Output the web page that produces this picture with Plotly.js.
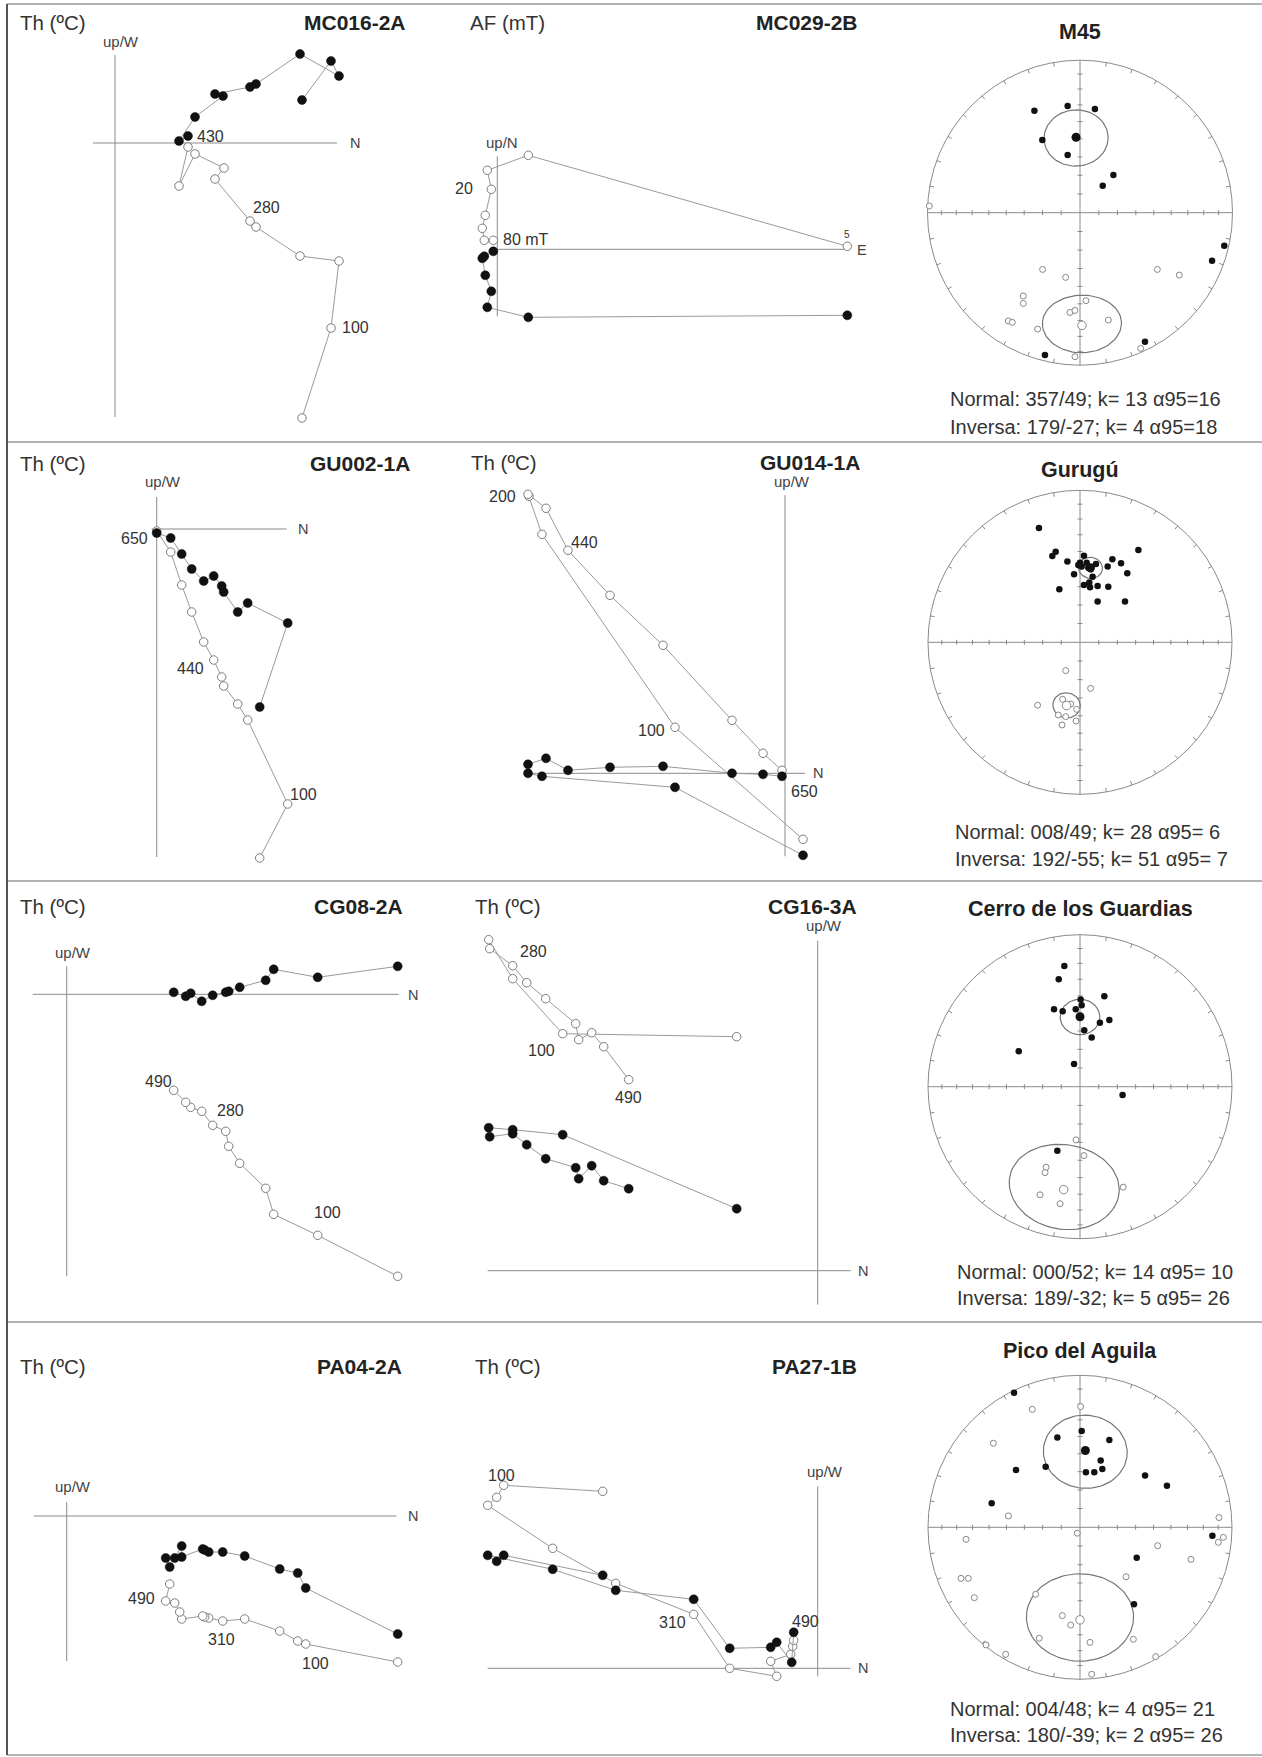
<!DOCTYPE html>
<html><head><meta charset="utf-8">
<script src="https://cdn.plot.ly/plotly-3.0.1.min.js"></script>
<style>html,body{margin:0;padding:0;background:#fff}#chart{width:1262px;height:1757px}</style>
</head><body><div id="chart"></div>
<script>
// ================= DATA =================
// Zijderveld diagrams (arbitrary units). f = filled (horizontal projection), o = open (vertical projection)
// MC016-2A  Th (ºC)
const mc016_fx = [187,216,224,185,141,135,100,108,80,64,73];
const mc016_fy = [43,82,67,89,59,56,49,47,26,2,7];
const mc016_ox = [187,216,224,185,141,135,100,109,80,64,73];
const mc016_oy = [-275,-185,-118,-113,-84,-78,-36,-25,-11,-43,-4];
// MC029-2B  AF (mT)
const mc029_fx = [350,31,-10,-6,-12,-15,-13,-4];
const mc029_fy = [-66,-68,-58,-42,-26,-9,-7,-2];
const mc029_ox = [350,31,-10,-6,-12,-15,-13,-4];
const mc029_oy = [3,94,79,60,34,21,9,9];
// GU002-1A
const gu002_fx = [103,131,91,81,67,65,57,47,35,25,14,0];
const gu002_fy = [-178,-94,-74,-83,-63,-57,-47,-52,-40,-25,-9,-4];
const gu002_ox = [103,131,91,81,67,65,57,47,35,25,14,0];
const gu002_oy = [-329,-275,-191,-175,-157,-148,-131,-113,-83,-56,-23,-2];
// GU014-1A
const gu014_fx = [18,-110,-243,-257,-257,-239,-217,-175,-122,-53,-22,-3];
const gu014_fy = [-82,-14,-3,0,9,15,3,6,7,0,-1,-3];
const gu014_ox = [18,-110,-243,-256,-257,-239,-217,-175,-122,-53,-22,-3];
const gu014_oy = [-66,46,239,277,279,265,223,178,128,53,20,3];
// CG08-2A
const cg08_fx = [331,251,207,199,173,162,159,146,135,124,119,107];
const cg08_fy = [28,17,25,14,7,3,2,-1,-7,1,-2,2];
const cg08_ox = [331,251,207,199,173,162,159,146,135,124,119,107];
const cg08_oy = [-282,-241,-220,-194,-169,-152,-137,-131,-117,-113,-108,-96];
// CG16-3A
const cg16_fx = [-81,-255,-305,-329,-328,-305,-291,-272,-242,-239,-226,-214,-189];
const cg16_fy = [62,136,141,143,134,137,126,112,103,92,105,90,82];
const cg16_ox = [-81,-255,-305,-329,-328,-305,-291,-272,-242,-239,-226,-214,-189];
const cg16_oy = [234,237,292,331,322,305,288,272,247,231,238,224,191];
// PA04-2A
const pa04_fx = [331,239,231,213,178,156,142,138,136,115,115,108,99,103];
const pa04_fy = [-118,-72,-57,-53,-40,-36,-36,-34,-33,-41,-30,-42,-42,-51];
const pa04_ox = [331,239,231,213,178,156,142,138,136,115,113,108,99,103];
const pa04_oy = [-146,-128,-125,-115,-103,-105,-102,-101,-100,-103,-96,-87,-85,-68];
// PA27-1B
const pa27_fx = [-215,-314,-321,-330,-265,-202,-124,-88,-47,-41,-26,-24];
const pa27_fy = [93,113,107,113,99,78,69,20,21,26,6,36];
const pa27_ox = [-215,-314,-321,-330,-265,-202,-124,-88,-41,-47,-27,-25,-24];
const pa27_oy = [177,183,171,163,120,85,54,0,-8,7,14,22,28];

// Stereonets: site directions, equal-area projection coordinates (E, N; net radius = 1)
const m45_nx = [-0.299,-0.081,0.098,-0.247,-0.081,0.219,0.149,0.946,0.866,0.426,-0.230];
const m45_ny = [0.669,0.699,0.680,0.477,0.378,0.247,0.177,-0.216,-0.315,-0.846,-0.933];
const m45_rx = [-0.988,-0.245,-0.094,0.507,0.651,-0.372,-0.372,0.039,-0.066,-0.033,-0.470,-0.444,-0.278,0.186,0.398,-0.033];
const m45_ry = [0.044,-0.372,-0.424,-0.372,-0.409,-0.546,-0.595,-0.577,-0.654,-0.641,-0.710,-0.719,-0.763,-0.704,-0.890,-0.944];
const gur_nx = [-0.270,-0.160,-0.182,0.384,-0.083,0,0.026,0.044,0.105,-0.011,0.011,0.055,0.070,0.213,0.270,0.182,0.311,-0.039,0.083,0.061,0.026,0.066,0.116,0.186,-0.136,0.116,0.296];
const gur_ny = [0.752,0.596,0.568,0.607,0.531,0.524,0.570,0.524,0.515,0.509,0.498,0.491,0.480,0.546,0.520,0.498,0.454,0.447,0.432,0.393,0.377,0.362,0.371,0.366,0.349,0.268,0.268];
const gur_rx = [-0.094,0.070,-0.279,-0.114,-0.088,-0.061,-0.022,-0.143,-0.094,-0.118,-0.026];
const gur_ry = [-0.186,-0.303,-0.414,-0.375,-0.419,-0.406,-0.441,-0.478,-0.489,-0.544,-0.518];
const cg_nx = [-0.103,-0.140,0.160,0.004,0.011,-0.171,-0.114,-0.028,0.131,0.193,0.028,0.077,-0.403,-0.039,0.280,-0.149];
const cg_ny = [0.794,0.707,0.595,0.573,0.536,0.510,0.497,0.510,0.420,0.438,0.372,0.324,0.234,0.149,-0.055,-0.422];
const cg_rx = [-0.026,0.026,-0.223,-0.230,-0.263,-0.131,0.284];
const cg_ry = [-0.350,-0.453,-0.530,-0.565,-0.711,-0.770,-0.661];
const pa_nx = [-0.434,0.011,-0.149,0.193,0.136,0.147,0.094,0.039,-0.226,-0.421,0.428,0.572,-0.581,0.871,0.373,0.355];
const pa_ny = [0.886,0.634,0.590,0.575,0.439,0.384,0.362,0.362,0.399,0.377,0.340,0.274,0.158,-0.055,-0.200,-0.507];
const pa_rx = [0.004,-0.314,-0.570,-0.471,-0.018,0.914,0.943,0.910,-0.750,0.511,0.730,0.303,-0.783,-0.735,-0.695,-0.292,-0.116,-0.061,-0.268,0.066,0.351,-0.618,-0.489,0.498,0.077];
const pa_ry = [0.794,0.776,0.553,0.075,-0.039,0.064,-0.066,-0.099,-0.079,-0.121,-0.211,-0.325,-0.336,-0.336,-0.463,-0.441,-0.581,-0.643,-0.730,-0.757,-0.737,-0.774,-0.836,-0.851,-0.967];

// Site mean statistics
const siteNames = ['M45','Gurugú','Cerro de los Guardias','Pico del Aguila'];
const normDec = [357,8,0,4];
const normInc = [49,49,52,48];
const normK = [13,28,14,4];
const normA95 = [16,6,10,21];
const revDec = [179,192,189,180];
const revInc = [-27,-55,-32,-39];
const revK = [4,51,5,2];
const revA95 = [18,7,26,26];

// ================= LAYOUT / DRAWING =================
const W = 1262, H = 1757;
const FONT = 'Liberation Sans, Arial, Helvetica, sans-serif';
const traces = [], shapes = [], annotations = [];
const layout = {width:W, height:H, margin:{l:0,r:0,t:0,b:0}, paper_bgcolor:'#fff',
  plot_bgcolor:'rgba(0,0,0,0)', showlegend:false, font:{family:FONT, color:'#333'},
  shapes, annotations, hovermode:false};
const ref = k => (k === 1 ? '' : String(k));
function pAnn(text, x, y, o) {
  annotations.push(Object.assign({xref:'paper', yref:'paper', x:x/W, y:1-y/H, text, showarrow:false,
    xanchor:'center', yanchor:'middle', font:{family:FONT, size:14, color:'#333'}}, o || {}));
}
function setAxes(k, box, xr, yr) {
  const common = {visible:false, fixedrange:true, showgrid:false, zeroline:false};
  layout['xaxis'+ref(k)] = Object.assign({domain:[box[0]/W, box[1]/W], range:xr, anchor:'y'+ref(k)}, common);
  layout['yaxis'+ref(k)] = Object.assign({domain:[1-box[3]/H, 1-box[2]/H], range:yr, anchor:'x'+ref(k)}, common);
}

const rows = [[6,440],[444,879],[883,1320],[1324,1753]];
const zPanels = [
 {name:'MC016-2A', step:'Th (ºC)', col:0, row:0, origin:[115,143], fx:mc016_fx, fy:mc016_fy, ox:mc016_ox, oy:mc016_oy,
  v:[88,-274], h:[-22,222], up:['up/W',120.7,41.7], end:['N',355,143], stepPos:[18,22], namePos:[408,22],
  labels:[['430','f',10,'left',7,-1],['280','o',5,'left',1,13],['100','o',1,'left',9,0]]},
 {name:'MC029-2B', step:'AF (mT)', col:1, row:0, origin:[497.3,249.3], fx:mc029_fx, fy:mc029_fy, ox:mc029_ox, oy:mc029_oy,
  v:[93,-67], h:[-3,348], up:['up/N',501.7,142.7], end:['E',862,250], stepPos:[468,22], namePos:[860,22],
  labels:[['5','o',0,'center',0,12,10],['20','o',3,'right',-16,1],['80 mT','o',7,'left',8,1]]},
 {name:'GU002-1A', step:'Th (ºC)', col:0, row:1, origin:[156.7,529], fx:gu002_fx, fy:gu002_fy, ox:gu002_ox, oy:gu002_oy,
  v:[32,-328], h:[-5,130], up:['up/W',163.3,481.7], end:['N',303.3,529], stepPos:[18,463.3], namePos:[411.7,463.3],
  labels:[['650','o',11,'right',-7,-7],['440','o',6,'right',-8,-8],['100','o',1,'left',0,10]]},
 {name:'GU014-1A', step:'Th (ºC)', col:1, row:1, origin:[785,773.3], fx:gu014_fx, fy:gu014_fy, ox:gu014_ox, oy:gu014_oy,
  v:[278,-83], h:[-257,20], up:['up/W',791.7,481.7], end:['N',818.3,773.3], stepPos:[469,462.3], namePos:[861.7,462.3],
  labels:[['200','o',4,'right',-10,-2],['440','o',6,'left',1,8],['100','o',1,'right',-8,-3],['650','f',11,'left',7,-15]]},
 {name:'CG08-2A', step:'Th (ºC)', col:0, row:2, origin:[66.7,994.3], fx:cg08_fx, fy:cg08_fy, ox:cg08_ox, oy:cg08_oy,
  v:[28,-282], h:[-34,332], up:['up/W',73.3,952.3], end:['N',413.3,995], stepPos:[18,906.7], namePos:[405,906.7],
  labels:[['490','o',11,'right',0,9],['280','o',8,'left',13,1],['100','o',1,'left',-6,23]]},
 {name:'CG16-3A', step:'Th (ºC)', col:1, row:2, origin:[817.7,1270.7], fx:cg16_fx, fy:cg16_fy, ox:cg16_ox, oy:cg16_oy,
  v:[330,-34], h:[-330,33], up:['up/W',824,926], end:['N',863.3,1270.7], stepPos:[472.7,906.7], namePos:[859,906.7],
  labels:[['280','o',5,'left',5,14],['100','o',1,'right',-6,-17],['490','o',12,'center',0,-18]]},
 {name:'PA04-2A', step:'Th (ºC)', col:0, row:3, origin:[66.7,1516], fx:pa04_fx, fy:pa04_fy, ox:pa04_ox, oy:pa04_oy,
  v:[14,-145], h:[-33,330], up:['up/W',73.3,1486.7], end:['N',413.3,1516], stepPos:[18,1366.7], namePos:[404,1366.7],
  labels:[['490','o',12,'right',-9,3],['310','o',6,'left',-3,-21],['100','o',1,'left',-6,-19]]},
 {name:'PA27-1B', step:'Th (ºC)', col:1, row:3, origin:[817.7,1668.3], fx:pa27_fx, fy:pa27_fy, ox:pa27_ox, oy:pa27_oy,
  v:[182,-8], h:[-330,33], up:['up/W',825,1471.7], end:['N',863.3,1668.3], stepPos:[472.7,1366.7], namePos:[859,1366.7],
  labels:[['100','o',1,'center',-2,10],['310','o',6,'right',-6,-8],['490','f',11,'left',-4,11]]}
];
const cols = [[10,430],[440,870]];
const AXC = '#8a8a8a', LINEC = '#9a9a9a';

let k = 0;
zPanels.forEach(p => {
  k += 1;
  const box = [cols[p.col][0], cols[p.col][1], rows[p.row][0], rows[p.row][1]];
  const [ox, oy] = p.origin;
  setAxes(k, box, [box[0]-ox, box[1]-ox], [oy-box[3], oy-box[2]]);
  const xa = 'x'+ref(k), ya = 'y'+ref(k);
  shapes.push({type:'line', xref:xa, yref:ya, x0:0, x1:0, y0:p.v[0], y1:p.v[1], line:{color:AXC, width:1}, layer:'below'});
  shapes.push({type:'line', xref:xa, yref:ya, x0:p.h[0], x1:p.h[1], y0:0, y1:0, line:{color:AXC, width:1}, layer:'below'});
  traces.push({type:'scatter', mode:'lines+markers', x:p.ox, y:p.oy, xaxis:xa, yaxis:ya, cliponaxis:false,
    line:{color:LINEC, width:1}, marker:{size:8.5, color:'#fff', line:{color:'#7d7d7d', width:1}}});
  traces.push({type:'scatter', mode:'lines+markers', x:p.fx, y:p.fy, xaxis:xa, yaxis:ya, cliponaxis:false,
    line:{color:LINEC, width:1}, marker:{size:9, color:'#111', line:{color:'#111', width:0.5}}});
  pAnn(p.step, p.stepPos[0], p.stepPos[1], {xanchor:'left', font:{family:FONT, size:20.5, color:'#333'}});
  pAnn('<b>'+p.name+'</b>', p.namePos[0], p.namePos[1], {xanchor:'right', font:{family:FONT, size:21, color:'#222'}});
  pAnn(p.up[0], p.up[1], p.up[2], {font:{family:FONT, size:15, color:'#444'}});
  pAnn(p.end[0], p.end[1], p.end[2], {font:{family:FONT, size:14.5, color:'#444'}});
  p.labels.forEach(l => {
    const xs = l[1] === 'f' ? p.fx : p.ox, ys = l[1] === 'f' ? p.fy : p.oy;
    annotations.push({xref:xa, yref:ya, x:xs[l[2]], y:ys[l[2]], text:l[0], showarrow:false,
      xanchor:l[3], yanchor:'middle', xshift:l[4], yshift:l[5],
      font:{family:FONT, size:l[6] || 16, color:'#333'}});
  });
});

// ---------- stereonets ----------
const D2R = Math.PI/180;
function proj(decDeg, incDeg) {
  const r = Math.SQRT2*Math.sin((Math.PI/2 - Math.abs(incDeg)*D2R)/2);
  return [r*Math.sin(decDeg*D2R), r*Math.cos(decDeg*D2R)];
}
function a95Circle(D, I, a) {
  const d = D*D2R, i = I*D2R, al = a*D2R;
  const m = [Math.cos(i)*Math.cos(d), Math.cos(i)*Math.sin(d), Math.sin(i)];
  const u = [-Math.sin(d), Math.cos(d), 0];
  const v = [-Math.sin(i)*Math.cos(d), -Math.sin(i)*Math.sin(d), Math.cos(i)];
  const xs = [], ys = [];
  for (let t = 0; t <= 360; t += 4) {
    const c = Math.cos(t*D2R), s = Math.sin(t*D2R);
    const q = [0,1,2].map(j => Math.cos(al)*m[j] + Math.sin(al)*(c*u[j] + s*v[j]));
    const inc = Math.asin(Math.max(-1, Math.min(1, q[2])))/D2R;
    const dec = Math.atan2(q[1], q[0])/D2R;
    const pp = proj(dec, inc);
    xs.push(pp[0]); ys.push(pp[1]);
  }
  return [xs, ys];
}
const pad3 = n => String(n).padStart(3, '0');
const sNets = [
 {c:[1080,212.7], R:152.5, nx:m45_nx, ny:m45_ny, rx:m45_rx, ry:m45_ry, titleY:32.3, textX:948, textY:[399.3,426.7], gap:''},
 {c:[1080,642.3], R:152, nx:gur_nx, ny:gur_ny, rx:gur_rx, ry:gur_ry, titleY:470, textX:953, textY:[831.7,859], gap:' '},
 {c:[1080,1086.7], R:152, nx:cg_nx, ny:cg_ny, rx:cg_rx, ry:cg_ry, titleY:909.3, textX:955, textY:[1272.3,1298], gap:' '},
 {c:[1080,1527.3], R:152, nx:pa_nx, ny:pa_ny, rx:pa_rx, ry:pa_ry, titleY:1351, textX:948, textY:[1709.3,1735], gap:' '}
];
const NETC = '#8a8a8a';
sNets.forEach((s, i) => {
  k += 1;
  const h = 172;
  const box = [s.c[0]-h, s.c[0]+h, s.c[1]-h, s.c[1]+h];
  setAxes(k, box, [-h/s.R, h/s.R], [-h/s.R, h/s.R]);
  const xa = 'x'+ref(k), ya = 'y'+ref(k);
  shapes.push({type:'circle', xref:xa, yref:ya, x0:-1, x1:1, y0:-1, y1:1, line:{color:NETC, width:1}, layer:'below'});
  shapes.push({type:'line', xref:xa, yref:ya, x0:-1, x1:1, y0:0, y1:0, line:{color:NETC, width:1}, layer:'below'});
  shapes.push({type:'line', xref:xa, yref:ya, x0:0, x1:0, y0:-1, y1:1, line:{color:NETC, width:1}, layer:'below'});
  // net ticks
  const tx = [], ty = [];
  for (let a = 0; a < 360; a += 10) {
    if (a % 90 === 0) continue;
    const sa = Math.sin(a*D2R), ca = Math.cos(a*D2R);
    tx.push(sa, 0.972*sa, null); ty.push(ca, 0.972*ca, null);
  }
  const tl = 2.5/s.R;
  for (let inc = 10; inc <= 80; inc += 10) {
    const r = proj(0, inc)[1];
    [1,-1].forEach(sg => {
      tx.push(sg*r, sg*r, null); ty.push(-tl, tl, null);
      tx.push(-tl, tl, null); ty.push(sg*r, sg*r, null);
    });
  }
  traces.push({type:'scatter', mode:'lines', x:tx, y:ty, xaxis:xa, yaxis:ya, line:{color:NETC, width:1}, hoverinfo:'skip'});
  // alpha95 circles
  const cn = a95Circle(normDec[i], normInc[i], normA95[i]);
  const cr = a95Circle(revDec[i], revInc[i], revA95[i]);
  traces.push({type:'scatter', mode:'lines', x:cn[0], y:cn[1], xaxis:xa, yaxis:ya, line:{color:'#777', width:1.2}});
  traces.push({type:'scatter', mode:'lines', x:cr[0], y:cr[1], xaxis:xa, yaxis:ya, line:{color:'#777', width:1.2}});
  // directions
  traces.push({type:'scatter', mode:'markers', x:s.rx, y:s.ry, xaxis:xa, yaxis:ya, cliponaxis:false,
    marker:{size:6, color:'#fff', line:{color:'#888', width:1}}});
  traces.push({type:'scatter', mode:'markers', x:s.nx, y:s.ny, xaxis:xa, yaxis:ya, cliponaxis:false,
    marker:{size:6.5, color:'#111'}});
  // means
  const mn = proj(normDec[i], normInc[i]), mr = proj(revDec[i], revInc[i]);
  traces.push({type:'scatter', mode:'markers', x:[mr[0]], y:[mr[1]], xaxis:xa, yaxis:ya,
    marker:{size:8.5, color:'#fff', line:{color:'#888', width:1}}});
  traces.push({type:'scatter', mode:'markers', x:[mn[0]], y:[mn[1]], xaxis:xa, yaxis:ya,
    marker:{size:9, color:'#111'}});
  // texts
  pAnn('<b>'+siteNames[i]+'</b>', s.c[0], s.titleY, {font:{family:FONT, size:21.5, color:'#222'}});
  pAnn('Normal: '+pad3(normDec[i])+'/'+normInc[i]+'; k= '+normK[i]+' α95='+s.gap+normA95[i], s.textX, s.textY[0],
    {xanchor:'left', font:{family:FONT, size:20, color:'#333'}});
  pAnn('Inversa: '+pad3(revDec[i])+'/'+revInc[i]+'; k= '+revK[i]+' α95='+s.gap+revA95[i], s.textX, s.textY[1],
    {xanchor:'left', font:{family:FONT, size:20, color:'#333'}});
});

// ---------- frame ----------
[4, 442, 881, 1322, 1755].forEach(y => {
  shapes.push({type:'line', xref:'paper', yref:'paper', x0:7/W, x1:1, y0:1-y/H, y1:1-y/H, line:{color:'#9a9a9a', width:1.5}});
});
shapes.push({type:'line', xref:'paper', yref:'paper', x0:7/W, x1:7/W, y0:1-4/H, y1:1-1755/H, line:{color:'#555', width:2}});

Plotly.newPlot('chart', traces, layout, {staticPlot:true, displayModeBar:false});
</script>
</body></html>
